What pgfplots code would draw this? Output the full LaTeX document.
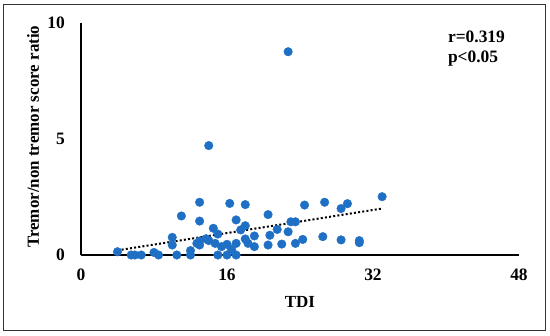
\documentclass[border=0pt]{standalone}
\usepackage{pgfplots}
\pgfplotsset{compat=1.18}
\usepackage{fontspec}
\setmainfont{Liberation Serif}
\definecolor{dotblue}{RGB}{31,112,197}
\pgfplotstableread{
x y
4.0 0.14
5.5 0.0
5.9 0.0
6.6 0.0
8.0 0.11
8.5 0.0
10.0 0.76
10.0 0.43
10.5 0.0
11.0 1.68
12.0 0.19
12.0 0.0
13.0 2.27
13.0 1.46
13.0 0.6
13.0 0.43
12.7 0.5
14.0 4.71
14.0 0.62
13.7 0.7
14.5 1.15
15.0 0.9
15.0 0.0
14.7 0.5
15.4 0.36
16.0 0.46
16.0 0.0
16.3 2.22
16.5 0.24
17.0 1.51
17.0 0.5
17.0 0.0
17.5 1.08
18.0 2.17
18.0 1.26
18.0 0.69
18.3 0.5
19.0 0.82
19.0 0.36
20.5 1.74
20.7 0.85
20.5 0.43
21.5 1.1
22.0 0.47
22.7 8.75
22.7 1.0
23.0 1.43
23.5 1.43
23.5 0.5
24.3 0.67
24.5 2.15
26.5 0.79
26.7 2.27
28.5 2.0
28.5 0.65
29.2 2.21
30.5 0.62
30.5 0.53
33.0 2.51
}\pts
\begin{document}
\begin{tikzpicture}
\useasboundingbox (0,0) rectangle (550bp,336bp);
\draw[line width=1bp, black!80] (3bp,5bp) rectangle (545bp,331bp);
\begin{axis}[
  at={(81bp,81bp)}, anchor=south west,
  scale only axis, width=438bp, height=232.3bp,
  xmin=0, xmax=48, ymin=0, ymax=10,
  axis lines=left, axis line style={-, line width=1.2bp, black},
  xtick={0,16,32,48}, ytick={0,5,10},
  major tick length=0pt,
  clip=false,
  /pgf/number format/assume math mode=true,
  every tick label/.append style={font=\fontsize{17.5}{20}\selectfont\bfseries, inner sep=0pt},
  xticklabel style={anchor=center, yshift=-20bp},
  yticklabel style={anchor=east, xshift=-16bp},
  xlabel={TDI},
  ylabel={Tremor/non tremor score ratio},
  label style={font=\fontsize{17}{20}\selectfont\bfseries},
  xlabel style={at={(axis description cs:0.5,-0.202)}, anchor=center, inner sep=0pt},
  ylabel style={at={(axis description cs:-0.1096,0.509)}, anchor=center, inner sep=0pt},
]
\addplot[only marks, mark=*, mark size=4.3bp, mark options={fill=dotblue, draw=dotblue}] table[x=x,y=y]{\pts};
\addplot[black, line width=2bp, dash pattern=on 2bp off 2.2bp] coordinates {(4,0.2) (33,2.0)};
\node[anchor=west, inner sep=0pt, font=\fontsize{17.5}{20}\selectfont\bfseries] at (axis cs:40.2,9.38) {r=0.319};
\node[anchor=west, inner sep=0pt, font=\fontsize{17.5}{20}\selectfont\bfseries] at (axis cs:40.2,8.44) {p<0.05};
\end{axis}
\end{tikzpicture}
\end{document}
